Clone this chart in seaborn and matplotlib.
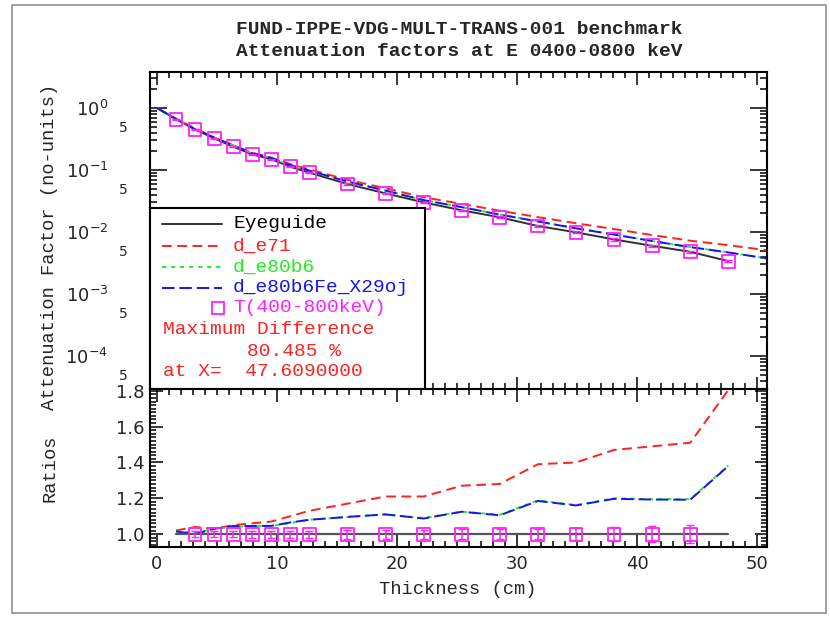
import numpy as np
import pandas as pd
import seaborn as sns
import matplotlib
matplotlib.use("Agg")
import matplotlib.pyplot as plt
from matplotlib.ticker import LogLocator, MultipleLocator, FuncFormatter, NullFormatter
from matplotlib.transforms import Affine2D
from matplotlib.patches import Rectangle
from matplotlib.lines import Line2D

# ---------------- data ----------------
# measured attenuation factors T(400-800keV)
thickness = [1.587, 3.174, 4.761, 6.348, 7.935, 9.522, 11.109, 12.696, 15.870,
             19.044, 22.218, 25.392, 28.566, 31.740, 34.914, 38.088, 41.262,
             44.436, 47.609]
measured = [0.657, 0.453, 0.324, 0.238, 0.179, 0.149, 0.113, 0.0906, 0.0594,
            0.0420, 0.0301, 0.0224, 0.0173, 0.0125, 0.0099, 0.0076, 0.0060,
            0.0048, 0.0034]
rel_err = [0.015, 0.015, 0.015, 0.015, 0.02, 0.02, 0.02, 0.02, 0.025, 0.025,
           0.025, 0.03, 0.03, 0.03, 0.035, 0.04, 0.045, 0.05, 0.05]

# calculated attenuation factors
calc_thickness = [0.0, 1.587, 3.174, 4.761, 6.348, 7.935, 9.522, 11.109, 12.696,
                  15.870, 19.044, 22.218, 25.392, 28.566, 31.740, 34.914, 38.088,
                  41.262, 44.436, 47.609, 50.783]
d_e71 = [1.0, 0.670, 0.471, 0.334, 0.250, 0.190, 0.159, 0.124, 0.1024, 0.0695,
         0.0508, 0.0364, 0.0284, 0.0221, 0.0174, 0.01386, 0.01117, 0.00894,
         0.00725, 0.00614, 0.0051]
d_e80b6 = [1.0, 0.667, 0.458, 0.333, 0.248, 0.187, 0.156, 0.1200, 0.0978, 0.0650,
           0.0466, 0.0328, 0.0252, 0.0192, 0.01485, 0.0115, 0.00912, 0.00717,
           0.00574, 0.00470, 0.00377]
d_e80b6Fe_X29oj = [1.0, 0.667, 0.453, 0.334, 0.249, 0.187, 0.156, 0.1203, 0.0978,
                   0.0651, 0.0466, 0.0327, 0.0252, 0.0191, 0.0148, 0.01148, 0.0091,
                   0.00716, 0.00572, 0.00469, 0.00377]

# calculated / measured ratios
ratio_e71 = [1.02, 1.04, 1.03, 1.05, 1.06, 1.07, 1.10, 1.13, 1.17, 1.21, 1.21,
             1.27, 1.28, 1.39, 1.40, 1.47, 1.49, 1.51, 1.80485]
ratio_e80b6 = [1.015, 1.01, 1.028, 1.04, 1.045, 1.045, 1.062, 1.08, 1.095, 1.11,
               1.09, 1.125, 1.108, 1.188, 1.162, 1.20, 1.195, 1.195, 1.383]
ratio_e80b6Fe = [1.015, 1.00, 1.03, 1.045, 1.045, 1.046, 1.065, 1.08, 1.096, 1.11,
                 1.087, 1.125, 1.105, 1.185, 1.16, 1.197, 1.193, 1.192, 1.38]

title_lines = ["FUND-IPPE-VDG-MULT-TRANS-001 benchmark",
               "Attenuation factors at E 0400-0800 keV"]
series_names = ["Eyeguide", "d_e71", "d_e80b6", "d_e80b6Fe_X29oj", "T(400-800keV)"]

# ---------------- style ----------------
sns.set_style("ticks")
plt.rcParams["font.family"] = ["DejaVu Sans"]
plt.rcParams["mathtext.fontset"] = "dejavusans"
plt.rcParams["lines.scale_dashes"] = False
MONO = "Liberation Mono"

RED, GREEN, BLUE, MAG = "#ff2020", "#22ee22", "#1515ee", "#ff20ff"
EYE = "#303030"
red_ls = (0, (7, 4))
green_ls = (0, (3, 3.5))
blue_ls = (0, (9, 3.5))

W, H = 830, 618
fig = plt.figure(figsize=(W / 100, H / 100), dpi=100)
fig.patch.set_facecolor("white")

L, R = 150, 767
ax = fig.add_axes([L / W, 1 - 389 / H, (R - L) / W, (389 - 72) / H])
axr = fig.add_axes([L / W, 1 - 547 / H, (R - L) / W, (547 - 389) / H])

# pixel transform (origin top-left of the figure)
pix = Affine2D().scale(1 / W, -1 / H).translate(0, 1) + fig.transFigure

# outer frame
fig.add_artist(Rectangle((12, 613), 814, -608, transform=pix, fill=False,
                         ec="#9a9a9a", lw=1.3))

meas = pd.DataFrame({"x": thickness, "y": measured,
                     "err": np.array(measured) * np.array(rel_err)})
calc = pd.DataFrame({"x": calc_thickness, "e71": d_e71, "e80b6": d_e80b6,
                     "fe": d_e80b6Fe_X29oj})
eyeguide = pd.DataFrame({"x": [0.0] + thickness, "y": [1.0] + measured})

# ---------------- top panel ----------------
sns.lineplot(data=eyeguide, x="x", y="y", ax=ax, color=EYE, lw=1.4,
             estimator=None, sort=False)
sns.lineplot(data=calc, x="x", y="e71", ax=ax, color=RED, lw=1.4,
             linestyle=red_ls, estimator=None, sort=False)
sns.lineplot(data=calc, x="x", y="e80b6", ax=ax, color=GREEN, lw=1.4,
             linestyle=green_ls, estimator=None, sort=False)
sns.lineplot(data=calc, x="x", y="fe", ax=ax, color=BLUE, lw=1.4,
             linestyle=blue_ls, estimator=None, sort=False)
ax.errorbar(meas["x"], meas["y"], yerr=meas["err"], fmt="none", ecolor=MAG,
            elinewidth=1.1, capsize=3, zorder=3)
sns.scatterplot(data=meas, x="x", y="y", ax=ax, marker="s", s=85,
                color=MAG, facecolor="none", edgecolor=MAG, linewidth=1.3,
                zorder=4)

ax.set_yscale("log")
ax.set_xlim(-0.58, 50.83)
ax.set_ylim(10 ** -4.53, 10 ** 0.58)
ax.yaxis.set_major_locator(LogLocator(base=10, numticks=12))
ax.yaxis.set_minor_locator(LogLocator(base=10, subs=np.arange(2, 10), numticks=12))
ax.yaxis.set_major_formatter(FuncFormatter(
    lambda v, p: r"$10^{%d}$" % int(round(np.log10(v)))))


def five_label(v, p):
    m = v / 10 ** np.floor(np.log10(v) + 1e-9)
    return "5" if abs(m - 5) < 0.01 else ""


ax.yaxis.set_minor_formatter(FuncFormatter(five_label))

# ---------------- ratio panel ----------------
ratios = pd.DataFrame({"x": thickness, "e71": ratio_e71, "e80b6": ratio_e80b6,
                       "fe": ratio_e80b6Fe,
                       "eye": np.array(measured) / np.array(measured),
                       "err": rel_err})
sns.lineplot(data=ratios, x="x", y="e71", ax=axr, color=RED, lw=1.4,
             linestyle=red_ls, estimator=None, sort=False)
sns.lineplot(data=ratios, x="x", y="e80b6", ax=axr, color=GREEN, lw=1.4,
             linestyle=green_ls, estimator=None, sort=False)
sns.lineplot(data=ratios, x="x", y="fe", ax=axr, color=BLUE, lw=1.4,
             linestyle=blue_ls, estimator=None, sort=False)
sns.lineplot(data=ratios, x="x", y="eye", ax=axr, color="#555555", lw=1.6,
             estimator=None, sort=False)
inner = ratios.iloc[1:-1]
axr.errorbar(inner["x"], inner["eye"], yerr=inner["err"], fmt="none",
             ecolor=MAG, elinewidth=1.1, capsize=3, zorder=3)
sns.scatterplot(data=inner, x="x", y="eye", ax=axr, marker="s", s=85,
                color=MAG, facecolor="none", edgecolor=MAG, linewidth=1.3,
                zorder=4)

axr.set_xlim(-0.58, 50.83)
axr.set_ylim(0.928, 1.81)
axr.yaxis.set_major_locator(MultipleLocator(0.2))
axr.yaxis.set_minor_locator(MultipleLocator(0.02))
axr.yaxis.set_major_formatter(FuncFormatter(lambda v, p: "%.1f" % v))
axr.xaxis.set_major_locator(MultipleLocator(10))
axr.xaxis.set_minor_locator(MultipleLocator(1))
ax.xaxis.set_major_locator(MultipleLocator(10))
ax.xaxis.set_minor_locator(MultipleLocator(1))

# ---------------- axes cosmetics ----------------
for a in (ax, axr):
    for s in a.spines.values():
        s.set_linewidth(1.5)
        s.set_color("black")
        s.set_visible(True)
    a.set_xlabel("")
    a.set_ylabel("")
    a.tick_params(which="both", direction="in", top=True, right=True,
                  color="black", width=1.1)
    a.tick_params(axis="x", which="major", length=9)
    a.tick_params(axis="x", which="minor", length=4.5)
    a.set_facecolor("white")

ax.tick_params(axis="x", labelbottom=False)
ax.tick_params(axis="y", which="major", length=12, pad=30, labelsize=13)
ax.tick_params(axis="y", which="minor", length=5, pad=16, labelsize=10)
axr.tick_params(axis="y", which="major", length=9, pad=4, labelsize=13)
axr.tick_params(axis="y", which="minor", length=4.5)
axr.tick_params(axis="x", which="major", pad=6, labelsize=13)

# ---------------- titles and axis labels ----------------
fig.text(459, 30, title_lines[0], transform=pix, ha="center", va="center",
         family=MONO, fontsize=14, fontweight="bold")
fig.text(459, 51, title_lines[1], transform=pix, ha="center", va="center",
         family=MONO, fontsize=14, fontweight="bold")
fig.text(50, 247, "Attenuation Factor (no-units)", transform=pix, rotation=90,
         ha="center", va="center", family=MONO, fontsize=13.5)
fig.text(50, 468, "Ratios", transform=pix, rotation=90, ha="center",
         va="center", family=MONO, fontsize=13.5)
fig.text(458, 590, "Thickness (cm)", transform=pix, ha="center", va="center",
         family=MONO, fontsize=13.5)

# ---------------- legend block ----------------
ax.add_artist(Rectangle((150, 389), 275, -181, transform=pix, fc="white",
                        ec="black", lw=1.5, zorder=6, clip_on=False))
entries = [(series_names[0], EYE, "-", 224),
           (series_names[1], RED, red_ls, 246),
           (series_names[2], GREEN, green_ls, 267),
           (series_names[3], BLUE, blue_ls, 288)]
for name, col, ls, yy in entries:
    ax.add_artist(Line2D([162, 222], [yy, yy], transform=pix, color=col,
                         lw=1.4, linestyle=ls, zorder=7, clip_on=False))
    ax.text(233, yy, name, transform=pix, color=col if col != EYE else "black",
            family=MONO, fontsize=14, va="center", ha="left", zorder=7)
ax.add_artist(Line2D([218], [308], transform=pix, marker="s", ms=9,
                     mfc="none", mec=MAG, mew=1.3, zorder=7, clip_on=False))
ax.text(233, 308, series_names[4], transform=pix, color=MAG, family=MONO,
        fontsize=14, va="center", ha="left", zorder=7)

diff = np.array(ratio_e71) - 1.0
imax = int(np.argmax(np.abs(diff)))
ax.text(163, 330, "Maximum Difference", transform=pix, color=RED, family=MONO,
        fontsize=14, va="center", ha="left", zorder=7)
ax.text(247, 351, "%.3f %%" % (diff[imax] * 100), transform=pix, color=RED,
        family=MONO, fontsize=14, va="center", ha="left", zorder=7)
ax.text(163, 372, "at X=  %.7f" % thickness[imax], transform=pix, color=RED,
        family=MONO, fontsize=14, va="center", ha="left", zorder=7)

fig.savefig("out.png", dpi=100)
